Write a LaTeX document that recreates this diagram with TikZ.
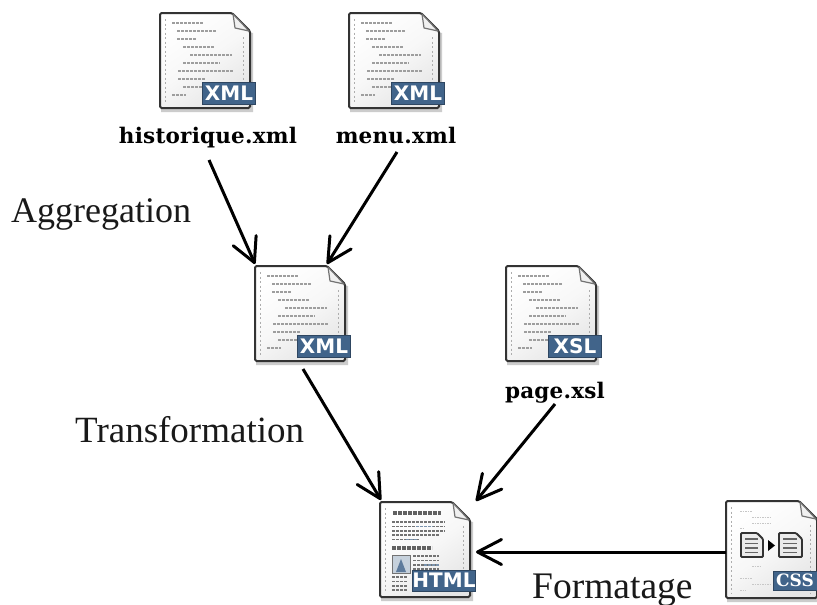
\documentclass[tikz,border=0pt]{standalone}
\usepackage{fontspec}
\setmainfont{Liberation Serif}
\newfontfamily\iconfont{DejaVu Sans}
\newfontfamily\labfont[LetterSpace=1]{DejaVu Serif}
\newfontfamily\cssfont{DejaVu Serif}
\usetikzlibrary{arrows.meta,calc}
\definecolor{badgeblue}{HTML}{41648A}
\definecolor{edgedark}{HTML}{333333}
\tikzset{
  x=1pt,y=-1pt,
  flow/.style={line width=3pt,-{Straight Barb[length=24pt,width=25pt,line width=3pt,round]},black},
  caption/.style={inner sep=0,anchor=base west,text=black!90},
  filename/.style={font=\labfont\bfseries\fontsize{21.5}{23}\selectfont,inner sep=0,anchor=base,text=black},
  badge/.style={fill=badgeblue,draw=badgeblue!70!black,line width=.6pt,text=white,font=\iconfont\bfseries\fontsize{20}{20}\selectfont,inner sep=0,anchor=center},
  codeline/.style={line width=2.4pt,black!38,dash pattern=on 3pt off 1pt},
  thinline/.style={line width=2pt,black!55,dash pattern=on 3pt off 1pt},
  headline/.style={line width=3.4pt,black!62,dash pattern=on 4pt off 1pt},
  linkline/.style={line width=2pt,badgeblue!70,dash pattern=on 3pt off 1pt},
  holes/.style={line width=1.3pt,black!32,dash pattern=on 2pt off 2.5pt},
  pagebody/.style={draw=edgedark,line width=2pt,rounded corners=1.5pt,top color=white,bottom color=black!10,middle color=black!3,shading angle=35},
}
% #1 name, #2 x, #3 y, #4 width, #5 height
\newcommand{\pageshape}[5]{%
  \fill[black!20] (#2+1,#3+3) -- (#2+#4+3,#3+20) -- (#2+#4+3,#3+#5+4) -- (#2+1,#3+#5+4) -- cycle;
  \path[pagebody] (#2,#3) -- (#2+#4-18,#3) -- (#2+#4,#3+18) -- (#2+#4,#3+#5) -- (#2,#3+#5) -- cycle;
  \draw[black!55,line width=1.2pt,fill=black!6,line join=round] (#2+#4-17,#3+1) -- (#2+#4-15,#3+15) -- (#2+#4-1,#3+18) -- cycle;
  \draw[holes] (#2+5.5,#3+6) -- (#2+5.5,#3+#5-4);
  \draw[holes] (#2+#4-6.5,#3+24) -- (#2+#4-6.5,#3+#5-4);
  \node[minimum width=#4,minimum height=#5,inner sep=0,anchor=north west] (#1) at (#2,#3) {};
}
% code lines: #1 x, #2 y
\newcommand{\codelines}[2]{%
  \foreach \ind/\len/\row in {0/32/0,5/39/1,5/20/2,11/31/3,18/42/4,11/37/5,6/55/6,6/27/7,11/20/8,0/14/9}{
    \draw[codeline] (#1+\ind,#2+\row*8) -- ++(\len,0);
  }%
}
% xml-like icon: #1 name, #2 x, #3 y, #4 badge text
\newcommand{\codeicon}[4]{%
  \pageshape{#1}{#2}{#3}{90}{95}
  \codelines{#2+12}{#3+10}
  \node[badge,minimum width=53,minimum height=22] (#1badge) at (#2+69,#3+80) {#4};
}
\begin{document}
\begin{tikzpicture}
\useasboundingbox (0,0) rectangle (817,605);
\fill[white] (0,0) rectangle (817,605);

\codeicon{histdoc}{160}{13}{XML}
\codeicon{menudoc}{349}{13}{XML}
\codeicon{middoc}{255}{266}{XML}
\codeicon{xsldoc}{506}{266}{XSL}

% HTML icon
\pageshape{htmldoc}{380}{502}{90}{95}
\draw[headline] (393,513) -- (441,513);
\foreach \row/\len in {0/53,1/53,2/53,3/47,4/27}{
  \draw[thinline,line width=1.6pt] (392,522+\row*4.4) -- ++(\len,0);
}
\draw[linkline,line width=1.6pt] (416,526.4) -- ++(17,0);
\draw[linkline,line width=1.6pt] (406,539.6) -- ++(12,0);
\draw[headline] (392,548) -- (432,548);
\draw[draw=black!55,fill=badgeblue!30,line width=.8pt] (392,555) rectangle (410,573);
\fill[badgeblue!85] (396,572) -- (401,559) -- (406,572) -- cycle;
\foreach \row/\len in {0/26,1/26,2/26,3/26}{
  \draw[thinline,line width=1.6pt] (413,556+\row*4.4) -- ++(\len,0);
}
\draw[linkline,line width=1.6pt] (424,564.8) -- ++(15,0);
\foreach \row/\len in {0/16,1/16,2/16,3/16}{
  \draw[thinline,line width=1.6pt] (392,577+\row*4.4) -- ++(\len,0);
}
\node[badge,minimum width=63,minimum height=21] (htmlbadge) at (444,580.5) {HTML};

% CSS icon
\pageshape{cssdoc}{726}{501}{91}{97}
\foreach \ax/\ay/\len in {740/511/12,752/517/20,752/523/18,740/528/4,752/566/10,740/578/12,752/584/18,740/590/6}{
  \draw[black!22,line width=.8pt,dash pattern=on 1.5pt off 1pt] (\ax,\ay) -- ++(\len,0);
}
\draw[edgedark,fill=black!8,line width=1.8pt,rounded corners=1pt] (741,533) -- (757,533) -- (763,539) -- (763,557) -- (741,557) -- cycle;
\foreach \row in {0,1,2,3}{\draw[black!60,line width=1.6pt] (745,539+\row*4.5) -- ++(13,0);}
\fill[black] (768,540) -- (775,545.5) -- (768,551) -- cycle;
\draw[edgedark,fill=black!8,line width=1.8pt,rounded corners=1pt] (779,533) -- (796,533) -- (802,539) -- (802,557) -- (779,557) -- cycle;
\foreach \row in {0,1,2,3}{\draw[black!60,line width=1.6pt] (783,539+\row*4.5) -- ++(14,0);}
\node[badge,minimum width=44,minimum height=19,font=\cssfont\bfseries\fontsize{17}{17}\selectfont] (cssbadge) at (795,580.5) {CSS};

% file names
\node[filename] (histlabel) at (208,143) {historique.xml};
\node[filename] (menulabel) at (396,143) {menu.xml};
\node[filename] (xsllabel) at (555,398) {page.xsl};

% captions
\node[caption,font=\fontsize{36}{36}\selectfont] (agg) at (11,222) {Aggregation};
\node[caption,font=\fontsize{37}{37}\selectfont] (tra) at (75,442) {Transformation};
\node[caption,font=\fontsize{37.5}{38}\selectfont] (fmt) at (532,598) {Formatage};

% connector ends
\coordinate (a1) at (209,160);
\coordinate (a2) at (255,264);
\coordinate (b1) at (397,152);
\coordinate (b2) at (327,264);
\coordinate (c1) at (303,369);
\coordinate (c2) at (381,500);
\coordinate (d1) at (555,404);
\coordinate (d2) at (476,501);
\coordinate (e1) at (cssdoc.west |- 0,552);
\coordinate (e2) at (476,552);
\draw[flow] (a1) -- (a2);
\draw[flow] (b1) -- (b2);
\draw[flow] (c1) -- (c2);
\draw[flow] (d1) -- (d2);
\draw[flow] (e1) -- (e2);
\end{tikzpicture}
\end{document}
